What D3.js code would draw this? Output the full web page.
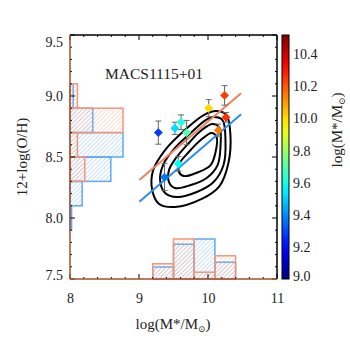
<!DOCTYPE html>
<html><head><meta charset="utf-8">
<script src="https://cdn.jsdelivr.net/npm/d3@7"></script>
<style>body{margin:0;background:#fff;} text{font-family:"Liberation Serif","Times New Roman","DejaVu Serif",serif;fill:#222;}</style>
</head><body><svg id="c" width="350" height="350"></svg>
<script>
// ---- data ----
const massTicks = [8, 9, 10, 11];
const ohTicks = [7.5, 8.0, 8.5, 9.0, 9.5];
const cbTicks = [9.0, 9.2, 9.4, 9.6, 9.8, 10.0, 10.2, 10.4];
const ptMass = [9.28, 9.52, 9.61, 9.69, 10.01, 10.24, 10.26, 10.15, 9.57, 9.37];
const ptOH   = [8.70, 8.735, 8.785, 8.70, 8.90, 9.005, 8.825, 8.72, 8.445, 8.335];
const ptErr  = [0.095, 0.05, 0.06, 0.10, 0.07, 0.08, 0.04, 0.05, 0.06, 0.11];
const fitRed  = [[9.005, 8.311], [10.48, 9.022]];
const fitBlue = [[9.005, 8.134], [10.48, 8.850]];
const contour1 = [[10.124,8.877],[10.268,8.844],[10.325,8.680],[10.296,8.451],[10.167,8.262],[9.909,8.156],[9.521,8.090],[9.292,8.115],[9.191,8.230],[9.206,8.393],[9.378,8.557],[9.665,8.721],[9.938,8.844]];
const contour2 = [[10.081,8.828],[10.210,8.803],[10.253,8.639],[10.225,8.434],[10.081,8.295],[9.837,8.213],[9.550,8.172],[9.378,8.205],[9.306,8.311],[9.349,8.434],[9.521,8.574],[9.765,8.705],[9.966,8.803]];
const contour3 = [[10.067,8.770],[10.167,8.738],[10.182,8.598],[10.139,8.434],[9.981,8.328],[9.751,8.270],[9.521,8.246],[9.435,8.295],[9.435,8.393],[9.536,8.492],[9.722,8.615],[9.909,8.721]];
const contour4 = [[10.052,8.697],[10.124,8.664],[10.110,8.541],[10.038,8.434],[9.866,8.377],[9.651,8.344],[9.579,8.377],[9.593,8.451],[9.722,8.541],[9.895,8.639]];
const massEdges = [9.2, 9.5, 9.8, 10.1, 10.4];
const massHistRed  = [0.38, 1.00, 0.17, 0.58];
const massHistBlue = [0.30, 0.87, 1.00, 0.42];
const ohEdges = [7.9, 8.1, 8.3, 8.5, 8.7, 8.9, 9.1];
const ohHistRed  = [0, 0, 0.28, 0.14, 1.00, 0.14];
const ohHistBlue = [0.03, 0.23, 0.77, 1.00, 0.43, 0.06];

// ---- scales ----
const L = 70, R = 277, T = 35, B = 279;
const FONT = '"Liberation Serif","Times New Roman","DejaVu Serif",serif';
const svg = d3.select("#c");
const x = d3.scaleLinear().domain([8, 11]).range([L, R]);
const y = d3.scaleLinear().domain([7.5, 9.5]).range([B, T]);
const cby = d3.scaleLinear().domain([9.0, 10.52]).range([B, T]);
const jet = d3.scaleLinear().domain([0, .125, .375, .625, .875, 1])
  .range(["#00007f", "#0000ff", "#00ffff", "#ffff00", "#ff0000", "#7f0000"]);
const color = v => jet((v - 9.0) / 1.52);
const hb = d3.scaleLinear().domain([0, 1]).range([0, 40]);
const hl = d3.scaleLinear().domain([0, 1]).range([0, 53]);

const RED = "#f4967a", REDH = "#f6b09a", BLUE = "#62a8f0", BLUEH = "#86bcf2";

const defs = svg.append("defs");
function hatch(id, col) {
  const p = defs.append("pattern").attr("id", id).attr("patternUnits", "userSpaceOnUse")
    .attr("width", 3).attr("height", 3).attr("patternTransform", "rotate(45)");
  p.append("line").attr("x1", 0).attr("y1", 0).attr("x2", 0).attr("y2", 3)
    .attr("stroke", col).attr("stroke-width", 0.9);
}
hatch("hr", REDH); hatch("hbl", BLUEH);
const grad = defs.append("linearGradient").attr("id", "cbg").attr("x1", 0).attr("y1", 1).attr("x2", 0).attr("y2", 0);
d3.range(0, 1.0001, 0.05).forEach(t => grad.append("stop").attr("offset", t).attr("stop-color", jet(t)));

// ---- histograms ----
function bottomHist(vals, stroke, fill) {
  svg.append("g").selectAll("rect").data(vals.map((v, i) => ({v, i})).filter(d => d.v > 0)).join("rect")
    .attr("x", d => x(massEdges[d.i])).attr("width", d => x(massEdges[d.i + 1]) - x(massEdges[d.i]))
    .attr("y", d => B - hb(d.v)).attr("height", d => hb(d.v))
    .attr("fill", fill).attr("stroke", stroke).attr("stroke-width", 1.5);
}
function leftHist(vals, stroke, fill) {
  svg.append("g").selectAll("rect").data(vals.map((v, i) => ({v, i})).filter(d => d.v > 0)).join("rect")
    .attr("x", L).attr("width", d => hl(d.v))
    .attr("y", d => y(ohEdges[d.i + 1])).attr("height", d => y(ohEdges[d.i]) - y(ohEdges[d.i + 1]))
    .attr("fill", fill).attr("stroke", stroke).attr("stroke-width", 1.5);
}
bottomHist(massHistBlue, BLUE, "url(#hbl)");
bottomHist(massHistRed, RED, "url(#hr)");
leftHist(ohHistBlue, BLUE, "url(#hbl)");
leftHist(ohHistRed, RED, "url(#hr)");

// ---- contours ----
const cl = d3.line().x(d => x(d[0])).y(d => y(d[1])).curve(d3.curveCatmullRomClosed);
[contour1, contour2, contour3, contour4].forEach(c =>
  svg.append("path").attr("d", cl(c)).attr("fill", "none").attr("stroke", "#000").attr("stroke-width", 2));

// ---- fit lines ----
const ll = d3.line().x(d => x(d[0])).y(d => y(d[1]));
svg.append("path").attr("d", ll(fitRed)).attr("stroke", "#f08060").attr("stroke-width", 2).attr("fill", "none");
svg.append("path").attr("d", ll(fitBlue)).attr("stroke", "#2a8ef0").attr("stroke-width", 2).attr("fill", "none");

// ---- points ----
const pts = ptMass.map((m, i) => ({m, o: ptOH[i], e: ptErr[i]}));
const eg = svg.append("g").attr("stroke", "#666").attr("stroke-width", 1);
pts.forEach(d => {
  const cx = x(d.m);
  eg.append("line").attr("x1", cx).attr("x2", cx).attr("y1", y(d.o - d.e)).attr("y2", y(d.o + d.e));
  eg.append("line").attr("x1", cx - 3).attr("x2", cx + 3).attr("y1", y(d.o - d.e)).attr("y2", y(d.o - d.e));
  eg.append("line").attr("x1", cx - 3).attr("x2", cx + 3).attr("y1", y(d.o + d.e)).attr("y2", y(d.o + d.e));
});
svg.append("g").selectAll("path").data(pts).join("path")
  .attr("d", d3.symbol(d3.symbolSquare, 40)())
  .attr("transform", d => `translate(${x(d.m)},${y(d.o)}) rotate(45)`)
  .attr("fill", d => color(d.m));

// ---- axes ----
function minor(lo, hi, step) { return d3.range(Math.round((hi - lo) / step) + 1).map(i => +(lo + i * step).toFixed(3)); }
const xMinor = minor(8, 11, 0.2), yMinor = minor(7.5, 9.5, 0.1);
const tk = svg.append("g").attr("stroke", "#000").attr("stroke-width", 1);
xMinor.forEach(v => {
  const major = Math.abs(v - Math.round(v)) < 1e-6;
  const len = major ? 5 : 2;
  tk.append("line").attr("x1", x(v)).attr("x2", x(v)).attr("y1", B).attr("y2", B - len);
  tk.append("line").attr("x1", x(v)).attr("x2", x(v)).attr("y1", T).attr("y2", T + len);
});
yMinor.forEach(v => {
  const major = Math.abs(v * 2 - Math.round(v * 2)) < 1e-6;
  const len = major ? 5 : 2;
  tk.append("line").attr("x1", L).attr("x2", L + len).attr("y1", y(v)).attr("y2", y(v));
  tk.append("line").attr("x1", R).attr("x2", R - len).attr("y1", y(v)).attr("y2", y(v));
});
// frame
svg.append("line").attr("x1", L).attr("x2", R).attr("y1", T).attr("y2", T).attr("stroke", "#000").attr("stroke-width", 1.5);
svg.append("line").attr("x1", R).attr("x2", R).attr("y1", T).attr("y2", B).attr("stroke", "#000").attr("stroke-width", 1.5);
svg.append("line").attr("x1", L).attr("x2", L).attr("y1", T).attr("y2", B).attr("stroke", "#a0522d").attr("stroke-width", 1.5);
svg.append("line").attr("x1", L).attr("x2", R).attr("y1", B).attr("y2", B).attr("stroke", "#a0522d").attr("stroke-width", 1.5);

// tick labels via d3 axes
const xa = svg.append("g").attr("transform", `translate(0,${B})`)
  .call(d3.axisBottom(x).tickValues(massTicks).tickFormat(d3.format("d")).tickSize(0).tickPadding(14));
const ya = svg.append("g").attr("transform", `translate(${L},0)`)
  .call(d3.axisLeft(y).tickValues(ohTicks).tickFormat(d3.format(".1f")).tickSize(0).tickPadding(7));
[xa, ya].forEach(a => { a.attr("font-family", FONT); a.select(".domain").remove(); a.selectAll("text").attr("font-size", 14).attr("fill", "#222"); });
ya.selectAll("text").filter(d => d === 9.5).attr("transform", "translate(0,7)");
ya.selectAll("text").filter(d => d === 7.5).attr("transform", "translate(0,-4)");

// title
svg.append("text").attr("x", 154).attr("y", 79).attr("text-anchor", "middle").attr("font-size", 15.5).text("MACS1115+01");

// axis titles
const xt = svg.append("text").attr("x", 173).attr("y", 329).attr("text-anchor", "middle").attr("font-size", 15);
xt.append("tspan").text("log(M*/M");
xt.append("tspan").attr("font-size", 9).attr("dy", 3).text("⊙");
xt.append("tspan").attr("dy", -3).text(")");
svg.append("text").attr("transform", "translate(27,157) rotate(-90)").attr("text-anchor", "middle").attr("font-size", 15).text("12+log(O/H)");

// ---- colorbar ----
svg.append("rect").attr("x", 282).attr("y", T).attr("width", 7).attr("height", B - T)
  .attr("fill", "url(#cbg)").attr("stroke", "#000").attr("stroke-width", 1);
const cba = svg.append("g").attr("transform", "translate(289,0)").attr("font-family", FONT)
  .call(d3.axisRight(cby).tickValues(cbTicks).tickFormat(d3.format(".1f")).tickSize(0).tickPadding(4));
cba.select(".domain").remove();
cba.selectAll("text").attr("font-size", 14).attr("fill", "#222");
cba.selectAll("text").filter(d => d === 9.0).attr("transform", "translate(0,-3)");
const ct = svg.append("text").attr("transform", "translate(342,130) rotate(-90)").attr("text-anchor", "middle").attr("font-size", 15);
ct.append("tspan").text("log(M*/M");
ct.append("tspan").attr("font-size", 9).attr("dy", 3).text("⊙");
ct.append("tspan").attr("dy", -3).text(")");
</script></body></html>
